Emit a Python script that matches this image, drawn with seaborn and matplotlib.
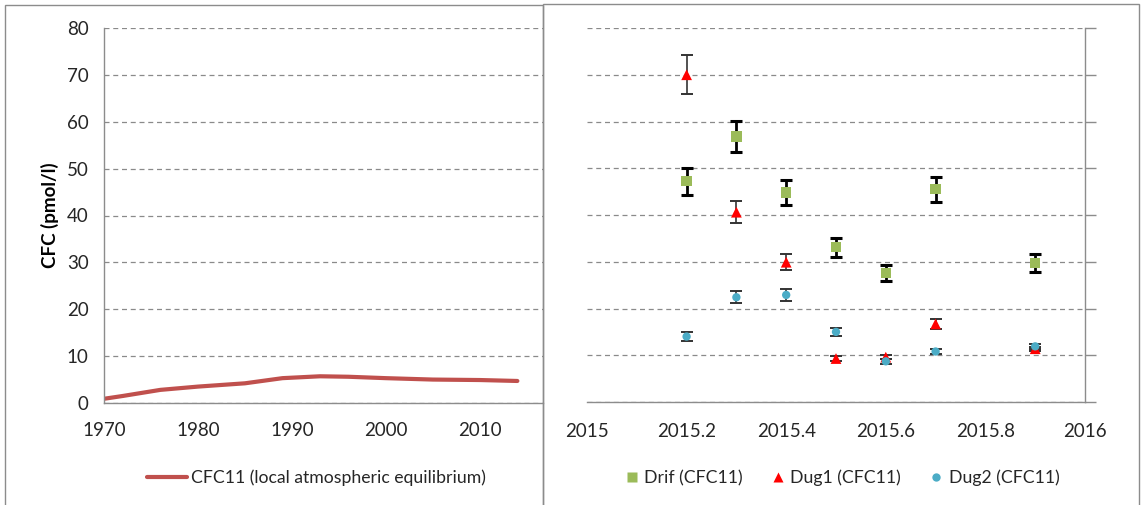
import matplotlib
matplotlib.use("Agg")
import matplotlib.pyplot as plt
from matplotlib.patches import Rectangle
from matplotlib.lines import Line2D
import seaborn as sns
import pandas as pd

# Atmospheric equilibrium CFC-11 concentration history
eq_years = [1970, 1972, 1976, 1980, 1985, 1989, 1993, 1996, 2000, 2005, 2010, 2014]
eq_cfc11 = [0.9, 1.5, 2.8, 3.5, 4.2, 5.3, 5.7, 5.6, 5.3, 5.0, 4.9, 4.7]

# Sample dates (decimal years)
drif_t = [2015.2, 2015.3, 2015.4, 2015.5, 2015.6, 2015.7, 2015.9]
dug1_t = [2015.2, 2015.3, 2015.4, 2015.5, 2015.6, 2015.7, 2015.9]
dug2_t = [2015.2, 2015.3, 2015.4, 2015.5, 2015.6, 2015.7, 2015.9]

# Measured CFC-11 concentrations and their uncertainties (pmol/l)
drif_val = [47.2, 56.8, 44.8, 33.1, 27.6, 45.5, 29.7]
drif_err = [2.9, 3.4, 2.7, 2.0, 1.75, 2.7, 1.9]
dug1_val = [70.0, 40.6, 29.9, 9.3, 9.6, 16.7, 11.4]
dug1_err = [4.2, 2.4, 1.75, 0.5, 0.4, 1.0, 0.4]
dug2_val = [14.0, 22.4, 22.9, 15.0, 8.7, 10.8, 11.9]
dug2_err = [0.9, 1.3, 1.35, 0.9, 0.5, 0.5, 0.5]

y_ticks = [0, 10, 20, 30, 40, 50, 60, 70, 80]
left_xticks = [1970, 1980, 1990, 2000, 2010]
right_xticks = [2015, 2015.2, 2015.4, 2015.6, 2015.8, 2016]
right_xticklabels = ["2015", "2015.2", "2015.4", "2015.6", "2015.8", "2016"]

sns.set_style("white")
plt.rcParams["font.family"] = ["Lato", "DejaVu Sans"]

W, H = 1141, 505
fig = plt.figure(figsize=(W / 100, H / 100), dpi=100)
fig.patch.set_facecolor("white")

SPINE = "#8c8c8c"
GRID = "#8a8a8a"
TXT = "#262626"
FS_TICK = 13.5
FS_LEG = 12.7


def px_rect(x0, y0, x1, y1):
    return [x0 / W, 1 - y1 / H, (x1 - x0) / W, (y1 - y0) / H]


# Panel frames
fig.add_artist(Rectangle((5 / W, -0.01), (543 - 5) / W, 1 - 5 / H + 0.01,
                         transform=fig.transFigure, fill=False,
                         edgecolor=SPINE, linewidth=1.0))
fig.add_artist(Rectangle((543 / W, -0.01), (1139 - 543) / W, 1 - 4 / H + 0.01,
                         transform=fig.transFigure, fill=False,
                         edgecolor=SPINE, linewidth=1.0))


def style_grid(ax):
    ax.set_ylim(0, 80)
    ax.set_yticks(y_ticks)
    ax.yaxis.grid(True, linestyle=(0, (4, 3)), color=GRID, linewidth=0.9)
    ax.xaxis.grid(False)
    ax.set_axisbelow(True)
    ax.patch.set_alpha(0)


# ---- Left: equilibrium curve ----
axL = fig.add_axes(px_rect(104, 28, 543, 403))
eq_df = pd.DataFrame({"year": eq_years, "cfc": eq_cfc11})
sns.lineplot(data=eq_df, x="year", y="cfc", ax=axL, color="#C0504D",
             linewidth=3, label="CFC11 (local atmospheric equilibrium)",
             legend=False)
axL.set_xlim(1970, 2016.73)
axL.set_xticks(left_xticks)
style_grid(axL)
for s in ["top", "right"]:
    axL.spines[s].set_visible(False)
for s in ["left", "bottom"]:
    axL.spines[s].set_color(SPINE)
    axL.spines[s].set_linewidth(1.0)
axL.tick_params(axis="both", colors=SPINE, labelcolor=TXT, labelsize=FS_TICK,
                length=7, width=1.0, direction="out", pad=4)
axL.tick_params(axis="x", pad=7)
axL.set_xlabel("")
axL.set_ylabel("CFC (pmol/l)", fontsize=13.5, fontweight="bold", color="black",
               labelpad=6)
axL.legend(handles=[Line2D([0], [0], color="#C0504D", lw=3)],
           labels=["CFC11 (local atmospheric equilibrium)"],
           loc="center", bbox_to_anchor=(316 / W, 1 - 478 / H),
           bbox_transform=fig.transFigure, frameon=False, fontsize=FS_LEG,
           handlelength=2.3, handletextpad=0.2, labelcolor=TXT)

# ---- Right: sample measurements ----
axR = fig.add_axes(px_rect(587, 28, 1085, 402))
style_grid(axR)
axR.set_xlim(2015, 2016)
axR.set_xticks(right_xticks)
axR.set_xticklabels(right_xticklabels)
axR.yaxis.tick_right()
axR.tick_params(axis="y", labelright=False, length=8, colors=SPINE, width=1.0)
axR.tick_params(axis="x", colors=SPINE, labelcolor=TXT, labelsize=FS_TICK,
                length=8, width=1.0, pad=7)
for s in ["top", "left"]:
    axR.spines[s].set_visible(False)
for s in ["right", "bottom"]:
    axR.spines[s].set_color(SPINE)
    axR.spines[s].set_linewidth(1.0)

axR.errorbar(drif_t, drif_val, yerr=drif_err, fmt="none", ecolor="black",
             elinewidth=2.0, capsize=4, capthick=2.2, zorder=3)
axR.errorbar(dug1_t, dug1_val, yerr=dug1_err, fmt="none", ecolor="#333333",
             elinewidth=1.2, capsize=4, capthick=1.4, zorder=3)
axR.errorbar(dug2_t, dug2_val, yerr=dug2_err, fmt="none", ecolor="#333333",
             elinewidth=1.2, capsize=4, capthick=1.4, zorder=3)

sns.scatterplot(x=drif_t, y=drif_val, ax=axR, marker="s", s=55,
                color="#9BBB59", edgecolor="none", zorder=4,
                label="Drif (CFC11)")
sns.scatterplot(x=dug1_t, y=dug1_val, ax=axR, marker="^", s=60,
                color="#FF0000", edgecolor="none", zorder=4,
                label="Dug1 (CFC11)")
sns.scatterplot(x=dug2_t, y=dug2_val, ax=axR, marker="o", s=36,
                color="#4BACC6", edgecolor="none", zorder=4,
                label="Dug2 (CFC11)")
axR.set_xlabel("")
axR.set_ylabel("")

handles = [
    Line2D([0], [0], marker="s", color="none", markerfacecolor="#9BBB59",
           markeredgecolor="none", markersize=7),
    Line2D([0], [0], marker="^", color="none", markerfacecolor="#FF0000",
           markeredgecolor="none", markersize=7),
    Line2D([0], [0], marker="o", color="none", markerfacecolor="#4BACC6",
           markeredgecolor="none", markersize=6),
]
axR.legend(handles=handles,
           labels=["Drif (CFC11)", "Dug1 (CFC11)", "Dug2 (CFC11)"],
           loc="center", bbox_to_anchor=(842 / W, 1 - 478 / H),
           bbox_transform=fig.transFigure, ncol=3, frameon=False,
           fontsize=FS_LEG, handlelength=0.8, handletextpad=0.3,
           columnspacing=1.6, labelcolor=TXT)

fig.savefig("out.png", dpi=100, facecolor="white")
